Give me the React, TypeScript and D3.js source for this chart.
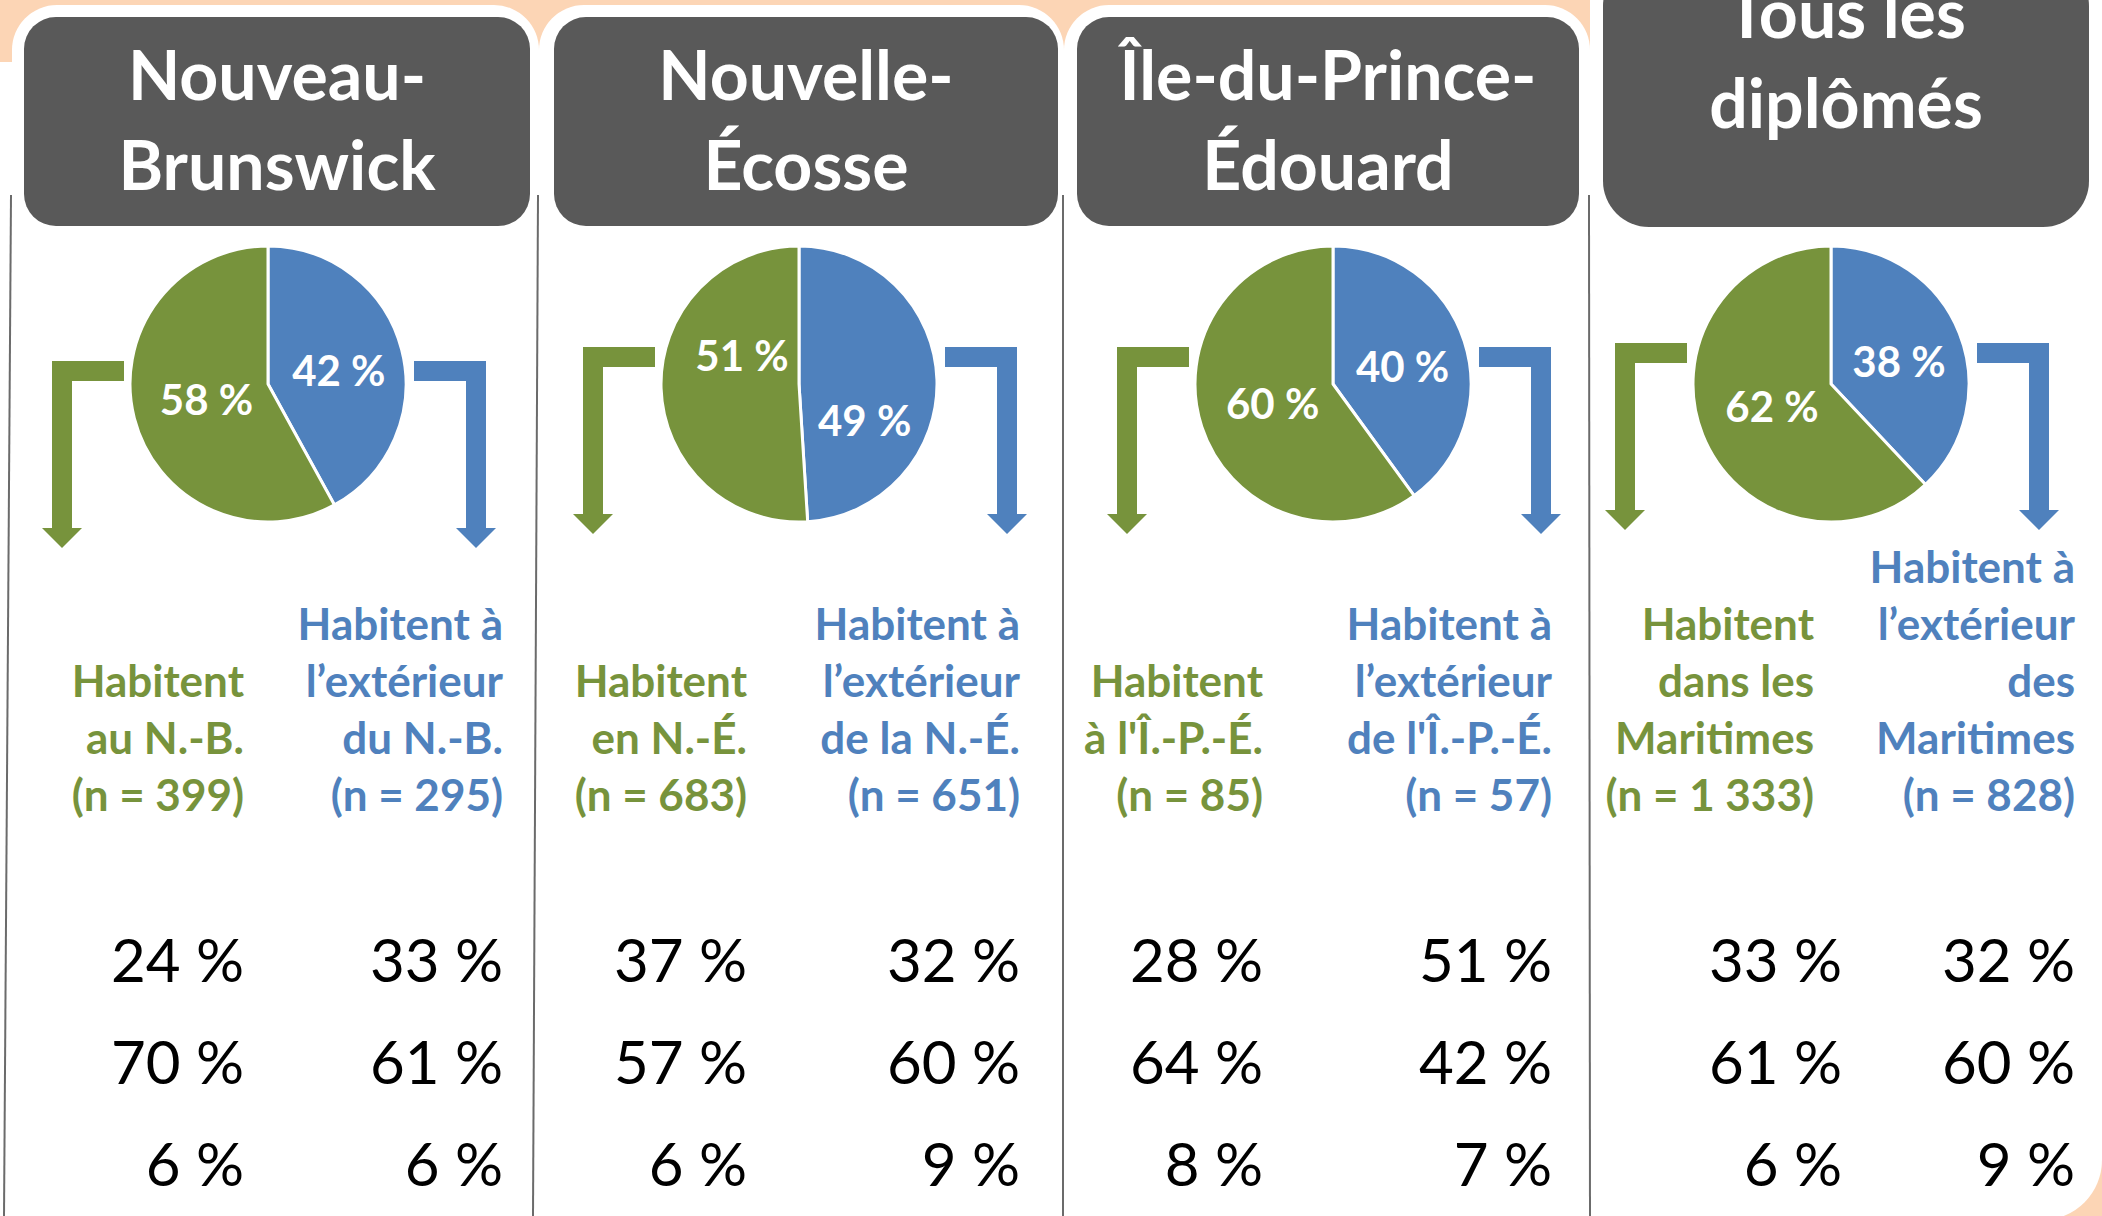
import React from 'react';
import * as d3 from 'd3';

const regions = ['Nouveau-Brunswick', 'Nouvelle-Écosse', 'Île-du-Prince-Édouard', 'Tous les diplômés'];
const titleLines = [
	['Nouveau-', 'Brunswick'],
	['Nouvelle-', 'Écosse'],
	['Île-du-Prince-', 'Édouard'],
	['Tous les', 'diplômés'],
];
const insideShare = [58, 51, 60, 62];
const outsideShare = [42, 49, 40, 38];
const insideLabels = [
	['Habitent', 'au N.-B.', '(n = 399)'],
	['Habitent', 'en N.-É.', '(n = 683)'],
	['Habitent', "à l'Î.-P.-É.", '(n = 85)'],
	['Habitent', 'dans les', 'Maritimes', '(n = 1 333)'],
];
const outsideLabels = [
	['Habitent à', 'l’extérieur', 'du N.-B.', '(n = 295)'],
	['Habitent à', 'l’extérieur', 'de la N.-É.', '(n = 651)'],
	['Habitent à', 'l’extérieur', "de l'Î.-P.-É.", '(n = 57)'],
	['Habitent à', 'l’extérieur', 'des', 'Maritimes', '(n = 828)'],
];
const insideRows = [
	[24, 70, 6],
	[37, 57, 6],
	[28, 64, 8],
	[33, 61, 6],
];
const outsideRows = [
	[33, 61, 6],
	[32, 60, 9],
	[51, 42, 7],
	[32, 60, 9],
];

// --- layout (the original is hand placed) ---
const width = 2102;
const height = 1216;
const GREEN = '#77933c';
const BLUE = '#4f81bd';
const DARK = '#595959';
const PEACH = '#fcd5b5';
const FONT = 'Lato, "Open Sans", sans-serif';

const panelLeft = [12, 539, 1064, 1590];
const panelRight = [539, 1064, 1590, 2102];
const lineLean = [-7, -5, 0, 1];
const boxLeft = [24, 554, 1077, 1603];
const boxRight = [530, 1058, 1579, 2089];
const titleShift = [0, 0, 0, -62];
const pieX = [268, 799, 1333, 1831];
const pieY = 384;
const radius = 138;
const labelTurn = [0, 28, 0, 0];
const arrowShift = [14, 0, 0, -4];
const insideX = [244, 747, 1263, 1814];
const insideNumX = [244, 747, 1263, 1842];
const outsideX = [503, 1020, 1552, 2075];

const rounded = (x0, y0, x1, y1, tl, tr, br, bl) => {
	const p = d3.path();
	p.moveTo(x0 + tl, y0);
	p.lineTo(x1 - tr, y0);
	p.arcTo(x1, y0, x1, y0 + tr, tr);
	p.lineTo(x1, y1 - br);
	p.arcTo(x1, y1, x1 - br, y1, br);
	p.lineTo(x0 + bl, y1);
	p.arcTo(x0, y1, x0, y1 - bl, bl);
	p.lineTo(x0, y0 + tl);
	p.arcTo(x0, y0, x0 + tl, y0, tl);
	p.closePath();
	return p.toString();
};

// elbow arrow: horizontal bar from xin to xout, then down to tip
const elbowArrow = (xin, xout, top, tip) => {
	const t = 20;
	const head = 20;
	const dir = xout < xin ? 1 : -1;
	const xa = xout;
	const xb = xout + dir * t;
	const xc = (xa + xb) / 2;
	const hb = tip - head;
	const p = d3.path();
	p.moveTo(xin, top);
	p.lineTo(xa, top);
	p.lineTo(xa, hb);
	p.lineTo(xc - dir * 20, hb);
	p.lineTo(xc, tip);
	p.lineTo(xc + dir * 20, hb);
	p.lineTo(xb, hb);
	p.lineTo(xb, top + t);
	p.lineTo(xin, top + t);
	p.closePath();
	return p.toString();
};

const useD3 = (renderChartFn, dependencies) => {
	const ref = React.useRef(null);
	React.useEffect(() => {
		renderChartFn(d3.select(ref.current));
		return () => {};
	}, dependencies);
	return ref;
};

function Chart() {
	const ref = useD3((svg) => {
		svg.selectAll('*').remove();

		svg.append('rect').attr('width', width).attr('height', height).attr('fill', PEACH);
		svg.append('rect').attr('x', 0).attr('y', 62).attr('width', 14).attr('height', height).attr('fill', '#fff');

		const arc = d3.arc().innerRadius(0).outerRadius(radius);
		const pie = d3.pie().sort(null).value((d) => d.value);
		const numY = d3.scaleLinear().domain([0, 2]).range([982, 1186]);

		regions.forEach((name, i) => {
			const g = svg.append('g').attr('class', 'panel').attr('data-region', name);
			const last = i === regions.length - 1;

			// white tab behind each panel
			g.append('path')
				.attr('d', last
					? rounded(panelLeft[i], -100, panelRight[i], 1220, 45, 45, 60, 0)
					: rounded(panelLeft[i], 5, panelRight[i], 1300, 45, 45, 0, 0))
				.attr('fill', '#fff');

			// divider
			g.append('line')
				.attr('x1', panelLeft[i] - 1)
				.attr('x2', panelLeft[i] - 1 + lineLean[i])
				.attr('y1', 195)
				.attr('y2', height)
				.attr('stroke', '#6b6b6b')
				.attr('stroke-width', 2);

			// header box
			g.append('rect')
				.attr('x', boxLeft[i])
				.attr('y', last ? -40 : 17)
				.attr('width', boxRight[i] - boxLeft[i])
				.attr('height', last ? 267 : 209)
				.attr('rx', last ? 46 : 32)
				.attr('fill', DARK);

			const bx = (boxLeft[i] + boxRight[i]) / 2;
			g.selectAll('text.title')
				.data(titleLines[i])
				.join('text')
				.attr('class', 'title')
				.attr('x', bx)
				.attr('y', (d, k) => 100 + titleShift[i] + k * 90)
				.attr('text-anchor', 'middle')
				.attr('font-family', FONT)
				.attr('font-weight', 700)
				.attr('font-size', 68)
				.attr('fill', '#fff')
				.text((d) => d);

			// pie
			const cx = pieX[i];
			const slices = pie([
				{ key: 'outside', value: outsideShare[i], color: BLUE },
				{ key: 'inside', value: insideShare[i], color: GREEN },
			]);
			const pg = g.append('g').attr('transform', `translate(${cx},${pieY})`);
			pg.selectAll('path')
				.data(slices)
				.join('path')
				.attr('d', arc)
				.attr('fill', (d) => d.data.color)
				.attr('stroke', '#fff')
				.attr('stroke-width', 3)
				.attr('stroke-linejoin', 'round');

			pg.selectAll('text')
				.data(slices)
				.join('text')
				.attr('transform', (d) => {
					const a = (d.startAngle + d.endAngle) / 2 + (labelTurn[i] * Math.PI) / 180;
					const rr = radius * (d.data.key === 'inside' ? 0.46 : 0.53);
					return `translate(${Math.sin(a) * rr},${-Math.cos(a) * rr + (d.data.key === 'inside' ? 0 : 5)})`;
				})
				.attr('text-anchor', 'middle')
				.attr('dy', '0.36em')
				.attr('font-family', FONT)
				.attr('font-weight', 700)
				.attr('font-size', 42)
				.attr('fill', '#fff')
				.text((d) => `${d.data.value} %`);

			// arrows
			const top = pieY - 37 + arrowShift[i];
			const tip = pieY + 150 + arrowShift[i];
			g.append('path')
				.attr('d', elbowArrow(cx - radius - 6, cx - radius - 78, top, tip))
				.attr('fill', GREEN);
			g.append('path')
				.attr('d', elbowArrow(cx + radius + 8, cx + radius + 80, top, tip))
				.attr('fill', BLUE);

			// group labels
			const labelBlock = (lines, x, color) => {
				g.append('g')
					.selectAll('text')
					.data(lines)
					.join('text')
					.attr('x', x)
					.attr('y', (d, k) => 811 - (lines.length - 1 - k) * 57)
					.attr('text-anchor', 'end')
					.attr('font-family', FONT)
					.attr('font-weight', 700)
					.attr('font-size', 44)
					.attr('fill', color)
					.text((d) => d);
			};
			labelBlock(insideLabels[i], insideX[i], GREEN);
			labelBlock(outsideLabels[i], outsideX[i], BLUE);

			// percentage rows
			const rowBlock = (vals, x) => {
				g.append('g')
					.selectAll('text')
					.data(vals)
					.join('text')
					.attr('x', x)
					.attr('y', (d, k) => numY(k))
					.attr('text-anchor', 'end')
					.attr('font-family', FONT)
					.attr('font-size', 60)
					.attr('fill', '#000')
					.text((d) => `${d} %`);
			};
			rowBlock(insideRows[i], insideNumX[i]);
			rowBlock(outsideRows[i], outsideX[i]);
		});
	}, []);

	return (
		<svg
			ref={ref}
			width={width}
			height={height}
			style={{ position: 'absolute', left: 0, top: 0, display: 'block' }}
		/>
	);
}

export default function App() {
	return <Chart />;
}
